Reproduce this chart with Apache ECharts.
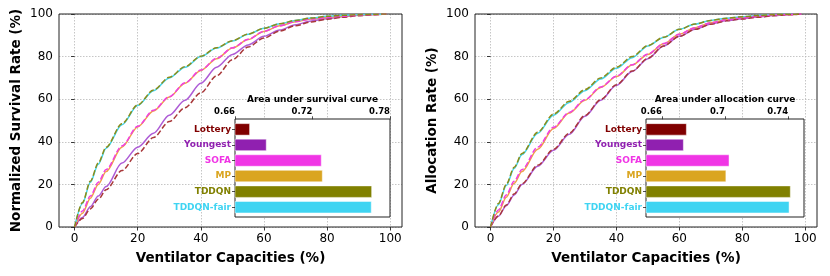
<!DOCTYPE html>
<html><head><meta charset="utf-8">
<script src="https://cdn.jsdelivr.net/npm/echarts@6/dist/echarts.min.js"></script>
<style>html,body{margin:0;padding:0;background:#fff}#c{width:830px;height:276px}</style>
</head><body><div id="c"></div>
<script>
// ---------- data ----------
const capacities = [0, 2.5, 5, 7.5, 10, 15, 20, 25, 30, 35, 40, 45, 50, 55, 60, 65, 70, 75, 80, 85, 90, 95, 98.8];
const methods = ['Lottery', 'Youngest', 'SOFA', 'MP', 'TDDQN', 'TDDQN-fair'];

// Normalized survival rate (%)
const survLottery   = [0, 4, 8.5, 13, 17.5, 26.5, 34.5, 42, 49.5, 56, 63, 71, 78.5, 84.5, 88.7, 92, 94.5, 96.3, 97.5, 98.5, 99.2, 99.7, 100];
const survYoungest  = [0, 4.5, 9.5, 14.5, 19, 30, 37.5, 44, 52.5, 59.5, 67.5, 75, 81, 85.5, 89.5, 92.5, 95, 96.7, 97.8, 98.7, 99.4, 99.8, 100];
const survSOFA      = [0, 7.5, 14.5, 21, 27, 38, 47.3, 54.8, 61.2, 67.7, 73.7, 79.2, 84.1, 88.1, 91.9, 94.5, 96.4, 97.6, 98.3, 99, 99.5, 99.8, 100];
const survMP        = [0, 6.5, 13.5, 20, 26, 37.5, 47, 54.5, 61, 67.5, 73.5, 79, 84, 88, 91.8, 94.5, 96.4, 97.6, 98.3, 99, 99.5, 99.8, 100];
const survTDDQN     = [0, 11.5, 21.5, 30, 37.5, 48.5, 57.3, 64.3, 70.3, 75.3, 80.2, 84.2, 87.5, 90.6, 93.3, 95.4, 97, 98.1, 98.9, 99.4, 99.7, 99.9, 100];
const survTDDQNfair = [0, 11, 21, 29.5, 37, 48, 57, 64, 70, 75, 80, 84, 87.3, 90.5, 93.3, 95.4, 97, 98.1, 98.9, 99.4, 99.7, 99.9, 100];

// Allocation rate (%)
const allocLottery   = [0, 5.2, 10.3, 15.5, 20.3, 29, 36.5, 44, 52.3, 59.8, 66.8, 73.2, 79.2, 85, 89.5, 92.8, 95.2, 96.8, 97.7, 98.5, 99.2, 99.7, 100];
const allocYoungest  = [0, 5, 10, 15, 20, 28.5, 36, 43.5, 52, 59.5, 66.5, 73, 79, 85, 89.5, 92.8, 95.3, 96.9, 97.8, 98.6, 99.3, 99.8, 100];
const allocSOFA      = [0, 8, 15, 21.5, 27, 37.5, 46.8, 53.8, 59.8, 65.7, 70.8, 76.2, 81.2, 86.1, 90.5, 93.6, 95.9, 97.3, 98.2, 98.9, 99.5, 99.8, 100];
const allocMP        = [0, 7, 14, 20.5, 26, 36.5, 46.3, 53.5, 59.5, 65.5, 70.6, 76, 81, 86, 90.5, 93.6, 95.9, 97.3, 98.2, 98.9, 99.5, 99.8, 100];
const allocTDDQN     = [0, 11, 20, 28, 34.5, 44.5, 53, 59, 64.5, 70, 75, 80, 85.2, 89.1, 92.8, 95.3, 97, 98, 98.7, 99.3, 99.7, 99.9, 100];
const allocTDDQNfair = [0, 10.5, 19.5, 27.5, 34, 44, 52.5, 58.5, 64, 69.5, 74.5, 79.5, 85, 89, 92.8, 95.3, 97, 98, 98.7, 99.3, 99.7, 99.9, 100];

// Area under curves (inset bars)
const aucSurvival   = [0.6716, 0.6845, 0.7271, 0.7279, 0.7661, 0.7658];
const aucAllocation = [0.6758, 0.6739, 0.7028, 0.7008, 0.7416, 0.7408];

// tick labels
const mainTicks  = [0, 20, 40, 60, 80, 100];
const survTicks  = [0.66, 0.72, 0.78];
const allocTicks = [0.66, 0.70, 0.74];

// ---------- styles ----------
const FONT = 'DejaVu Sans';
const barColors  = ['#800000', '#9020B0', '#F035E5', '#DAA520', '#808000', '#3FD4F2'];
const lineColors = ['#A8383A', '#AE5CD6', '#F040E0', '#F0A048', '#8C8C18', '#45D5EA'];
const dashed = [true, false, true, false, true, false];
const drawOrder = [1, 3, 5, 0, 2, 4]; // solid lines first, dashed on top

const survSeries  = [survLottery, survYoungest, survSOFA, survMP, survTDDQN, survTDDQNfair];
const allocSeries = [allocLottery, allocYoungest, allocSOFA, allocMP, allocTDDQN, allocTDDQNfair];

const chart = echarts.init(document.getElementById('c'), null, {renderer: 'canvas'});

function mainX(gi) {
  return {
    type: 'value', gridIndex: gi, min: -4.94, max: 103.74,
    name: 'Ventilator Capacities (%)', nameLocation: 'middle', nameGap: 24,
    nameTextStyle: {fontFamily: FONT, fontWeight: 'bold', fontSize: 13.5, color: '#000'},
    axisLine: {show: false},
    axisTick: {show: true, inside: false, length: 3.5, customValues: mainTicks, lineStyle: {color: '#222', width: 0.9}},
    axisLabel: {customValues: mainTicks, margin: 6, fontFamily: FONT, fontSize: 12, color: '#000'},
    splitLine: {show: true, lineStyle: {color: '#b8b8b8', width: 0.8, type: [1.5, 1.5]}}
  };
}
function mainY(gi, name, gap) {
  return {
    type: 'value', gridIndex: gi, min: 0, max: 100, interval: 20,
    name: name, nameLocation: 'middle', nameGap: gap,
    nameTextStyle: {fontFamily: FONT, fontWeight: 'bold', fontSize: 13.5, color: '#000'},
    axisLine: {show: false},
    axisTick: {show: true, inside: false, length: 3.5, lineStyle: {color: '#222', width: 0.9}},
    axisLabel: {margin: 6, fontFamily: FONT, fontSize: 12, color: '#000'},
    splitLine: {show: true, lineStyle: {color: '#b8b8b8', width: 0.8, type: [1.5, 1.5]}}
  };
}
function insetX(gi, min, max, ticks, title) {
  return {
    type: 'value', gridIndex: gi, position: 'top', offset: 2.3, min: min, max: max, z: 5,
    name: title, nameLocation: 'middle', nameGap: 15.5,
    nameTextStyle: {fontFamily: FONT, fontWeight: 'bold', fontSize: 9, color: '#000'},
    axisLine: {show: false},
    axisTick: {show: true, inside: false, length: 3, customValues: ticks, lineStyle: {color: '#222', width: 0.8}},
    axisLabel: {customValues: ticks, margin: 3.5, align: 'right', fontFamily: FONT, fontWeight: 'bold', fontSize: 8.5, color: '#000',
      formatter: v => String(+(+v).toFixed(2))},
    splitLine: {show: false}
  };
}
function insetY(gi) {
  return {
    type: 'category', gridIndex: gi, inverse: true, z: 5,
    data: methods.map((m, i) => ({value: m, textStyle: {color: barColors[i]}})),
    axisLine: {show: false},
    axisTick: {show: true, alignWithLabel: true, length: 3, lineStyle: {color: '#222', width: 0.8}},
    axisLabel: {margin: 4, fontFamily: FONT, fontWeight: 'bold', fontSize: 9},
    splitLine: {show: false}
  };
}
function hiddenAxis(gi) { return {type: 'value', gridIndex: gi, show: false}; }
function lineSeries(xi, yi, arrs) {
  return drawOrder.map(k => ({
    type: 'line', xAxisIndex: xi, yAxisIndex: yi, name: methods[k],
    data: capacities.map((x, i) => [x, arrs[k][i]]),
    showSymbol: false, smooth: 0.3, smoothMonotone: 'x', z: 2,
    lineStyle: {color: lineColors[k], width: 1.5, type: dashed[k] ? [5.5, 2.4] : 'solid'},
    silent: true, animation: false
  }));
}
function barSeries(xi, yi, vals) {
  return {
    type: 'bar', xAxisIndex: xi, yAxisIndex: yi, z: 4, clip: true, barWidth: '79%',
    data: vals.map((v, i) => ({value: v, itemStyle: {color: barColors[i], borderColor: 'rgba(255,255,255,0.6)', borderWidth: 0.8}})),
    animation: false, silent: true
  };
}

const L = {left: 59, top: 14, width: 343, height: 213};
const R = {left: 475, top: 14, width: 342, height: 213};
const option = {
  animation: false,
  backgroundColor: '#fff',
  grid: [
    Object.assign({}, L),                                  // 0 left main
    Object.assign({}, R),                                  // 1 right main
    {left: 235, top: 119, width: 155, height: 98, show: true, borderColor: '#222', borderWidth: 1, backgroundColor: '#fff', z: 3},  // 2
    {left: 235, top: 121.6, width: 155, height: 93.4, z: 4},                                                                       // 3
    {left: 646, top: 119, width: 158, height: 98, show: true, borderColor: '#222', borderWidth: 1, backgroundColor: '#fff', z: 3},  // 4
    {left: 646, top: 121.6, width: 158, height: 93.4, z: 4},                                                                       // 5
    Object.assign({show: true, borderColor: '#222', borderWidth: 1, backgroundColor: 'transparent', z: 1}, L),  // 6 left frame
    Object.assign({show: true, borderColor: '#222', borderWidth: 1, backgroundColor: 'transparent', z: 1}, R)   // 7 right frame
  ],
  xAxis: [
    mainX(0), mainX(1),
    hiddenAxis(2),
    insetX(3, 0.66, 0.78, survTicks, 'Area under survival curve'),
    hiddenAxis(4),
    insetX(5, 0.65, 0.75, allocTicks, 'Area under allocation curve'),
    hiddenAxis(6), hiddenAxis(7)
  ],
  yAxis: [
    mainY(0, 'Normalized Survival Rate (%)', 36),
    mainY(1, 'Allocation Rate (%)', 36),
    hiddenAxis(2),
    insetY(3),
    hiddenAxis(4),
    insetY(5),
    hiddenAxis(6), hiddenAxis(7)
  ],
  series: [].concat(
    lineSeries(0, 0, survSeries),
    lineSeries(1, 1, allocSeries),
    [barSeries(3, 3, aucSurvival), barSeries(5, 5, aucAllocation)]
  )
};
chart.setOption(option);
</script>
</body></html>
